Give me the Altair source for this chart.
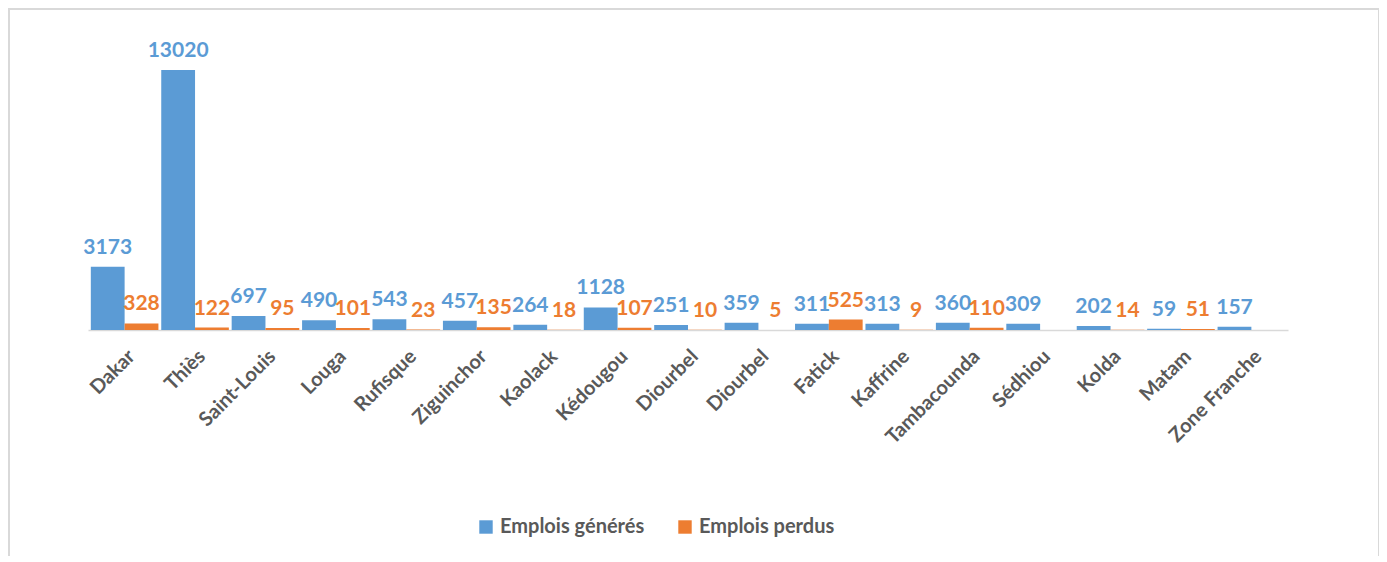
import json
import altair as alt
import pandas as pd

regions = ["Dakar", "Thiès", "Saint-Louis", "Louga", "Rufisque", "Ziguinchor",
           "Kaolack", "Kédougou", "Diourbel", "Diourbel", "Fatick", "Kaffrine",
           "Tambacounda", "Sédhiou", "Kolda", "Matam", "Zone Franche"]
generes = [3173, 13020, 697, 490, 543, 457, 264, 1128, 251, 359, 311, 313,
           360, 309, 202, 59, 157]
perdus = [328, 122, 95, 101, 23, 135, 18, 107, 10, 5, 525, 9,
          110, None, 14, 51, None]
series = ["Emplois générés", "Emplois perdus"]
colors = ["#5B9BD5", "#ED7D31"]

rows = []
for i, name in enumerate(regions):
    rows.append({"idx": i, "region": name, "series": series[0], "value": generes[i]})
    if perdus[i] is not None:
        rows.append({"idx": i, "region": name, "series": series[1], "value": perdus[i]})
df = pd.DataFrame(rows)

FONT = "Lato"
label_expr = json.dumps(regions, ensure_ascii=False) + "[datum.value]"

x_enc = alt.X("idx:O", scale=alt.Scale(paddingInner=0.04, paddingOuter=0.04),
              axis=alt.Axis(labelExpr=label_expr, labelAngle=-45, labelFontSize=20,
                            labelFontWeight="bold", labelColor="#595959", labelFont=FONT,
                            labelPadding=16, domainColor="#D9D9D9", domainWidth=1.5,
                            ticks=False, title=None, grid=False))
y_enc = alt.Y("value:Q", scale=alt.Scale(domain=[0, 13020], nice=False), axis=None)
xoff = alt.XOffset("series:N", sort=series, scale=alt.Scale(paddingInner=0.0))
color_enc = alt.Color("series:N", sort=series,
                      scale=alt.Scale(domain=series, range=colors),
                      legend=alt.Legend(title=None, orient="none", direction="horizontal",
                                        legendX=388, legendY=447, symbolType="square",
                                        symbolSize=180, symbolStrokeWidth=0,
                                        labelFontSize=20, labelFontWeight="bold",
                                        labelColor="#595959", labelFont=FONT,
                                        columnPadding=30, symbolOffset=0))

bars = alt.Chart(df).mark_bar().encode(x=x_enc, y=y_enc, xOffset=xoff, color=color_enc)
texts = alt.Chart(df).mark_text(dy=-9, baseline="bottom", fontSize=21,
                                fontWeight="bold", font=FONT).encode(
    x=x_enc, y=y_enc, xOffset=xoff, color=alt.Color("series:N", sort=series,
                                                    scale=alt.Scale(domain=series, range=colors),
                                                    legend=None),
    text=alt.Text("value:Q", format="d"))

frame = alt.Chart(alt.Data(values=[{}])).mark_rect(
    fill=None, stroke="#D9D9D9", strokeWidth=2).encode(
    x=alt.value(-79), x2=alt.value(1291), y=alt.value(-61), y2=alt.value(520))

chart = alt.layer(frame, bars, texts).properties(
    width=1200, height=260,
    background="white",
    autosize=alt.AutoSizeParams(type="none"),
    padding={"left": 80, "top": 62, "right": 91, "bottom": 226},
).configure_view(stroke="transparent", strokeWidth=0)

chart.save("out.html", embed_options={"renderer": "svg", "actions": False})
